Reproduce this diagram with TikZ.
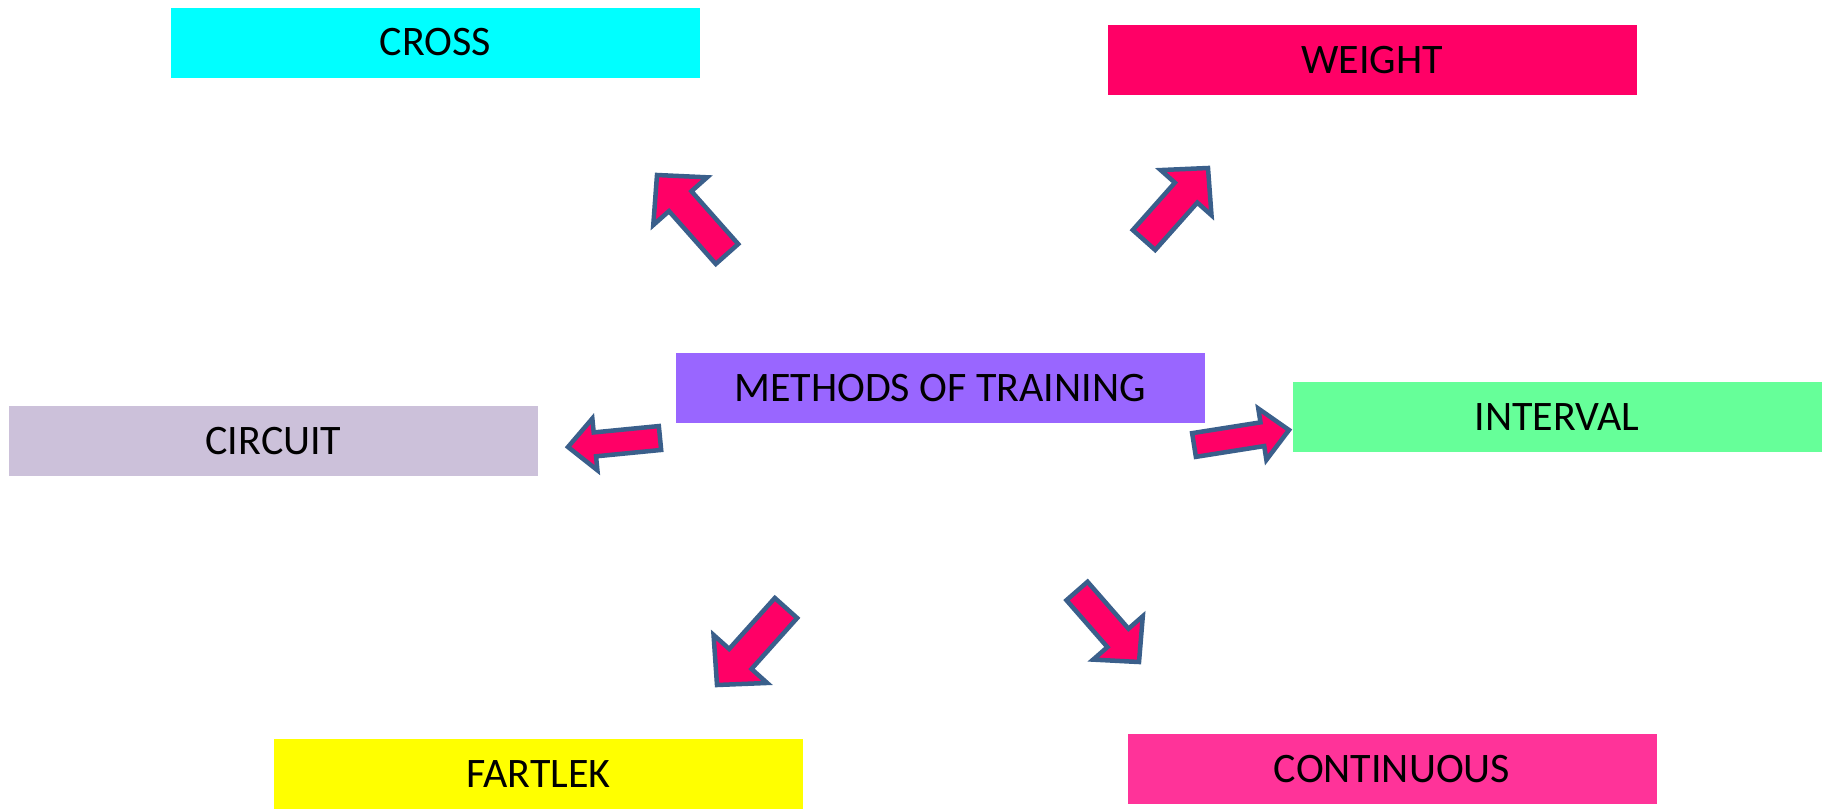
\documentclass[tikz,border=0pt]{standalone}
\usepackage{fontspec}
\setmainfont{Carlito}
\usetikzlibrary{calc}
\definecolor{cross}{HTML}{00FFFF}
\definecolor{weight}{HTML}{FF0066}
\definecolor{methods}{HTML}{9966FF}
\definecolor{circuit}{HTML}{CCC1DA}
\definecolor{interval}{HTML}{66FF99}
\definecolor{fartlek}{HTML}{FFFF00}
\definecolor{continuous}{HTML}{FF3399}
\definecolor{arrowred}{HTML}{FF0066}
\definecolor{arrowblue}{HTML}{3A5F8B}
\tikzset{
  box/.style={minimum width=529pt, minimum height=70pt, inner sep=0pt, font=\fontsize{42}{50}\selectfont, text=black},
  blk/.style={fill=arrowred, draw=arrowblue, line width=4.5pt, line join=miter}
}
% #1 tail, #2 tip, #3 shaft half width, #4 head half width, #5 head length
\newcommand{\blockarr}[5]{%
  \coordinate (hb) at ($(#2)!#5!(#1)$);
  \draw[blk] ($(#1)!#3!90:(#2)$) -- ($(hb)!#3!90:(#2)$) -- ($(hb)!#4!90:(#2)$) -- (#2)
    -- ($(hb)!#4!-90:(#2)$) -- ($(hb)!#3!-90:(#2)$) -- ($(#1)!#3!-90:(#2)$) -- cycle;
}
\begin{document}
\begin{tikzpicture}[x=1pt, y=-1pt]
\useasboundingbox (0,0) rectangle (1833,811);
\node[box, fill=cross] (cross) at (435.5,42.5) {CROSS};
\node[box, fill=weight] (weight) at (1372,60) {WEIGHT};
\node[box, fill=methods] (methods) at (940,388) {METHODS OF TRAINING};
\node[box, fill=circuit] (circuit) at (273.5,441) {CIRCUIT};
\node[box, fill=interval] (interval) at (1557,417) {INTERVAL};
\node[box, fill=fartlek] (fartlek) at (538.5,774) {FARTLEK};
\node[box, fill=continuous] (continuous) at (1392,769) {CONTINUOUS};

\coordinate (t1) at (727,254); \coordinate (p1) at (657,175);
\coordinate (t2) at (1144,240); \coordinate (p2) at (1208,168);
\coordinate (t3) at (660,438); \coordinate (p3) at (568,447);
\coordinate (t4) at (1194,445); \coordinate (p4) at (1289,430);
\coordinate (t5) at (786,608); \coordinate (p5) at (717,685);
\coordinate (t6) at (1077,591); \coordinate (p6) at (1139,662);

\blockarr{t1}{p1}{15pt}{36pt}{35pt}
\blockarr{t2}{p2}{15pt}{34pt}{33pt}
\blockarr{t3}{p3}{12pt}{26pt}{27pt}
\blockarr{t4}{p4}{12pt}{26pt}{27pt}
\blockarr{t5}{p5}{15pt}{36pt}{35pt}
\blockarr{t6}{p6}{14pt}{33pt}{32pt}
\end{tikzpicture}
\end{document}
